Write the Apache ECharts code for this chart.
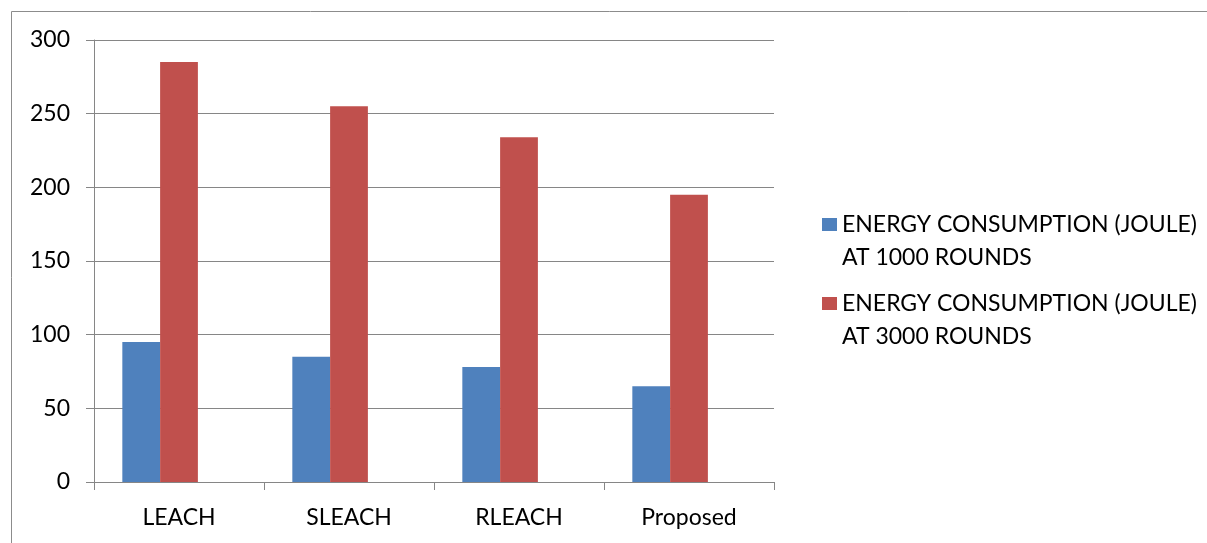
<!DOCTYPE html>
<html>
<head>
<meta charset="utf-8">
<script src="https://cdn.jsdelivr.net/npm/echarts@6/dist/echarts.min.js"></script>
<style>
  html, body { margin: 0; padding: 0; background: #ffffff; }
  #chart { width: 1207px; height: 543px; }
</style>
</head>
<body>
<div id="chart"></div>
<script>
// Protocols compared
const categories = ['LEACH', 'SLEACH', 'RLEACH', 'Proposed'];

// Energy consumption (joule) per protocol
const energyAt1000 = [95, 85, 78, 65];
const energyAt3000 = [285, 255, 234, 195];

const seriesNames = [
  'ENERGY CONSUMPTION (JOULE)\nAT 1000 ROUNDS',
  'ENERGY CONSUMPTION (JOULE)\nAT 3000 ROUNDS'
];

// Value axis ticks
const yMin = 0;
const yMax = 300;
const yStep = 50;

const axisGray = '#868686';
const fontFamily = 'Lato, "Open Sans", sans-serif';

// Legend swatch: a square at the top of a tall box, so the swatch lines up
// with the first line of a two-line legend label.
const legendSwatch = 'path://M0,0H15V13H0ZM0,46L15,46';

const chart = echarts.init(document.getElementById('chart'), null, { renderer: 'canvas' });

chart.setOption({
  backgroundColor: '#ffffff',
  animation: false,
  graphic: [
    {
      type: 'rect',
      shape: { x: 11.5, y: 11.5, width: 1300, height: 600 },
      style: { fill: 'none', stroke: '#8c8c8c', lineWidth: 1 },
      silent: true,
      z: -1
    }
  ],
  grid: { left: 94, right: 433, top: 40, bottom: 61, containLabel: false },
  legend: {
    orient: 'vertical',
    left: 817,
    top: 203,
    data: seriesNames,
    itemWidth: 15,
    itemHeight: 46,
    itemGap: 13,
    icon: legendSwatch,
    textStyle: {
      fontFamily: fontFamily,
      fontSize: 23,
      color: '#000000',
      lineHeight: 33
    }
  },
  xAxis: {
    type: 'category',
    data: categories,
    boundaryGap: true,
    axisLine: { show: true, lineStyle: { color: axisGray, width: 1 } },
    axisTick: { show: true, interval: 0, length: 8, lineStyle: { color: axisGray } },
    axisLabel: { fontFamily: fontFamily, fontSize: 23, color: '#000000', margin: 24 },
    splitLine: { show: false }
  },
  yAxis: {
    type: 'value',
    min: yMin,
    max: yMax,
    interval: yStep,
    axisLine: { show: true, lineStyle: { color: axisGray, width: 1 } },
    axisTick: { show: true, length: 8, lineStyle: { color: axisGray } },
    axisLabel: { fontFamily: fontFamily, fontSize: 23, color: '#000000', margin: 24 },
    splitLine: { show: true, lineStyle: { color: axisGray, width: 1 } }
  },
  series: [
    {
      name: seriesNames[0],
      type: 'bar',
      data: energyAt1000,
      itemStyle: { color: '#4F81BD' },
      barGap: '0%',
      barCategoryGap: '33.33%'
    },
    {
      name: seriesNames[1],
      type: 'bar',
      data: energyAt3000,
      itemStyle: { color: '#C0504D' },
      barGap: '0%',
      barCategoryGap: '33.33%'
    },
    {
      // empty third slot keeps the bar pairs left of each category centre
      name: 'reserved',
      type: 'bar',
      data: categories.map(() => null),
      barGap: '0%',
      barCategoryGap: '33.33%'
    }
  ]
});
</script>
</body>
</html>
